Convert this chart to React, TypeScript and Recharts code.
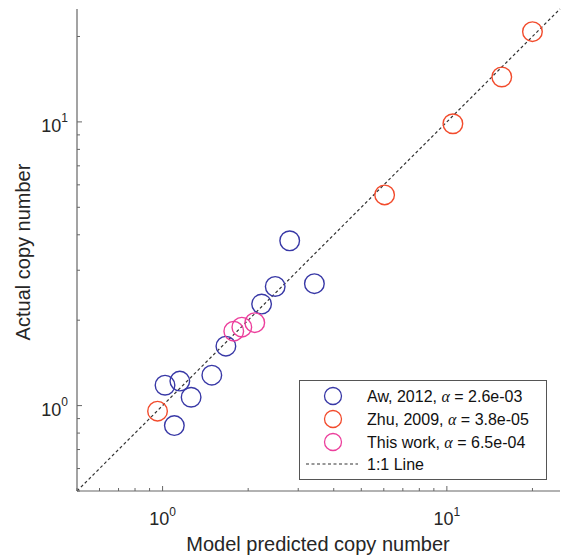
import React from "react";
import { ScatterChart, Scatter, XAxis, YAxis, ReferenceLine, Label } from "recharts";

// values
const awPredicted = [2.8, 3.42, 2.49, 2.23, 1.67, 1.49, 1.02, 1.15, 1.26, 1.1];
const awActual = [3.81, 2.69, 2.63, 2.28, 1.62, 1.28, 1.18, 1.22, 1.07, 0.85];
const zhuPredicted = [20.0, 15.6, 10.5, 6.04, 0.96];
const zhuActual = [20.8, 14.4, 9.85, 5.53, 0.956];
const thisPredicted = [1.78, 1.9, 2.11];
const thisActual = [1.83, 1.89, 1.96];

const seriesNames = ["Aw, 2012", "Zhu, 2009", "This work"];
const alphaValues = ["2.6e-03", "3.8e-05", "6.5e-04"];
const seriesColors = ["#3838a6", "#f24b2c", "#ec3f9c"];

const logTicks = [0.5, 0.6, 0.7, 0.8, 0.9, 1, 2, 3, 4, 5, 6, 7, 8, 9, 10, 20];
const majorTicks = [1, 10];
const axisDomain = [0.5, 25];
const lineEnds = [0.5, 25];

const FONT = "'Liberation Sans', Arial, Helvetica, sans-serif";
const AXIS = "#666666";
const TEXT = "#262626";

const toPoints = (xs: number[], ys: number[]) => xs.map((x, i) => ({ x, y: ys[i] }));
const series = [
  toPoints(awPredicted, awActual),
  toPoints(zhuPredicted, zhuActual),
  toPoints(thisPredicted, thisActual),
];

const XTick = (props: any) => {
  const { x, y, payload } = props;
  const major = majorTicks.includes(payload.value);
  return (
    <g>
      <line x1={x} x2={x} y1={y} y2={y - (major ? 5 : 3)} stroke={AXIS} strokeWidth={1} />
      {major && (
        <text x={x} y={y + 34} textAnchor="middle" fontSize={18} fill={TEXT} fontFamily={FONT}>
          10
          <tspan dy={-9} fontSize={12}>
            {Math.round(Math.log10(payload.value))}
          </tspan>
        </text>
      )}
    </g>
  );
};

const YTick = (props: any) => {
  const { x, y, payload } = props;
  const major = majorTicks.includes(payload.value);
  return (
    <g>
      <line x1={x} x2={x + (major ? 5 : 3)} y1={y} y2={y} stroke={AXIS} strokeWidth={1} />
      {major && (
        <text x={x - 9} y={y + 10} textAnchor="end" fontSize={18} fill={TEXT} fontFamily={FONT}>
          10
          <tspan dy={-10} fontSize={12}>
            {Math.round(Math.log10(payload.value))}
          </tspan>
        </text>
      )}
    </g>
  );
};

const ring = (color: string) => (p: any) => (
  <circle cx={p.cx} cy={p.cy} r={9.8} fill="none" stroke={color} strokeWidth={1.4} />
);

const LegendBox = () => (
  <div
    style={{
      position: "absolute",
      left: 299,
      top: 380,
      width: 246,
      height: 98,
      border: "1.3px solid #555",
      background: "#fff",
    }}
  >
    <svg width={246} height={98} style={{ display: "block" }}>
      {seriesNames.map((name, i) => (
        <g key={name}>
          <circle cx={33} cy={15 + i * 23} r={8.5} fill="none" stroke={seriesColors[i]} strokeWidth={1.3} />
          <text x={67} y={21 + i * 23} fontSize={16} fill="#111" fontFamily={FONT}>
            {name},{" "}
            <tspan fontFamily="'Liberation Serif', 'DejaVu Serif', serif" fontStyle="italic">
              α
            </tspan>{" "}
            = {alphaValues[i]}
          </text>
        </g>
      ))}
      <line x1={6} x2={58} y1={83} y2={83} stroke="#333" strokeWidth={1.2} strokeDasharray="3 2.5" />
      <text x={67} y={89} fontSize={16} fill="#111" fontFamily={FONT}>
        1:1 Line
      </text>
    </svg>
  </div>
);

export default function App() {
  return (
    <div style={{ position: "absolute", left: 0, top: 0, width: 561, height: 558, background: "#fff" }}>
      <ScatterChart width={561} height={558} margin={{ top: 9, right: 1, bottom: 0, left: 0 }}>
        <XAxis
          type="number"
          dataKey="x"
          scale="log"
          domain={axisDomain}
          allowDataOverflow
          ticks={logTicks}
          interval={0}
          height={67}
          tickSize={0}
          tickMargin={0}
          tickLine={false}
          tick={<XTick />}
          axisLine={{ stroke: AXIS, strokeWidth: 1.2 }}
        >
          <Label
            content={() => (
              <text x={318} y={551} textAnchor="middle" fontSize={20} fill={TEXT} fontFamily={FONT}>
                Model predicted copy number
              </text>
            )}
          />
        </XAxis>
        <YAxis
          type="number"
          dataKey="y"
          scale="log"
          domain={axisDomain}
          allowDataOverflow
          ticks={logTicks}
          interval={0}
          width={77}
          tickSize={0}
          tickMargin={0}
          tickLine={false}
          tick={<YTick />}
          axisLine={{ stroke: AXIS, strokeWidth: 1.2 }}
        >
          <Label
            content={() => (
              <text
                x={30}
                y={252}
                transform="rotate(-90, 30, 252)"
                textAnchor="middle"
                fontSize={20}
                fill={TEXT}
                fontFamily={FONT}
              >
                Actual copy number
              </text>
            )}
          />
        </YAxis>
        <ReferenceLine
          segment={[
            { x: lineEnds[0], y: lineEnds[0] },
            { x: lineEnds[1], y: lineEnds[1] },
          ]}
          stroke="#333"
          strokeWidth={1.2}
          strokeDasharray="3 2.5"
          ifOverflow="visible"
        />
        {series.map((data, i) => (
          <Scatter
            key={seriesNames[i]}
            name={seriesNames[i]}
            data={data}
            shape={ring(seriesColors[i])}
            isAnimationActive={false}
          />
        ))}
      </ScatterChart>
      <LegendBox />
    </div>
  );
}
